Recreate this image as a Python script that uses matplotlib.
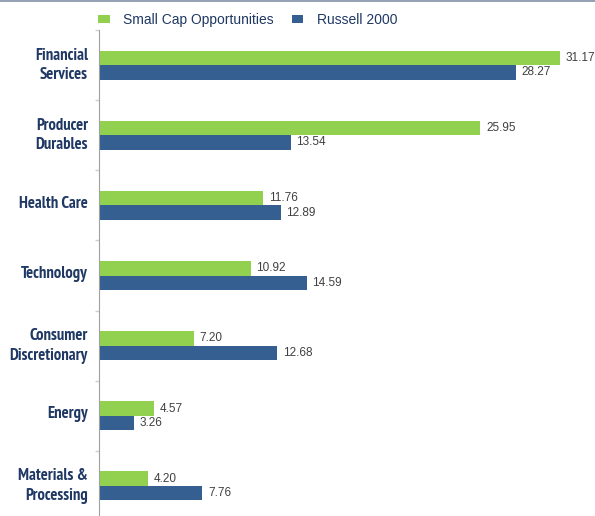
import numpy as np
import matplotlib.pyplot as plt
import matplotlib.transforms as mtransforms
from matplotlib.lines import Line2D

categories = ["Financial\nServices", "Producer\nDurables", "Health Care", "Technology",
              "Consumer\nDiscretionary", "Energy", "Materials &\nProcessing"]
small_cap = [31.17, 25.95, 11.76, 10.92, 7.20, 4.57, 4.20]
russell = [28.27, 13.54, 12.89, 14.59, 12.68, 3.26, 7.76]
series_names = ["Small Cap Opportunities", "Russell 2000"]

green = "#92D050"
blue = "#355F91"
navy = "#1F3864"

fig = plt.figure(figsize=(5.95, 5.16), dpi=100)
ax = fig.add_axes([99 / 595, -5 / 516, 1 - 99 / 595, 491 / 516])

# the value axis of the original starts at 1, not 0
xmin = 1.0
y = np.arange(len(categories))
h = 0.207
ax.barh(y - h / 2, np.array(small_cap) - xmin, left=xmin, height=h, color=green,
        label=series_names[0])
ax.barh(y + h / 2, np.array(russell) - xmin, left=xmin, height=h, color=blue,
        label=series_names[1])

for yi, v in zip(y, small_cap):
    ax.text(v + 0.38, yi - h / 2, f"{v:.2f}", va="center", ha="left",
            fontsize=8.5, color="#404040", family="Liberation Sans")
for yi, v in zip(y, russell):
    ax.text(v + 0.38, yi + h / 2, f"{v:.2f}", va="center", ha="left",
            fontsize=8.5, color="#404040", family="Liberation Sans")

ax.set_xlim(xmin, xmin + 496 / 15.28)
ax.set_ylim(len(categories) - 0.5, -0.5)
ax.set_yticks(y)
ax.set_yticklabels(categories, fontsize=12, fontweight="bold", color=navy,
                   family=["PT Sans Narrow", "Liberation Sans"], linespacing=1.3)
ax.tick_params(axis="y", which="major", length=0, pad=8)
# labels sit a little above the group centre in the original
shift = mtransforms.ScaledTranslation(0, 0.035, fig.dpi_scale_trans)
for lab in ax.get_yticklabels():
    lab.set_transform(lab.get_transform() + shift)
ax.set_yticks(np.arange(-0.5, len(categories), 1), minor=True)
ax.tick_params(axis="y", which="minor", length=3, color="#d0d0d0", width=1)
ax.set_xticks([])
for s in ["top", "right", "bottom"]:
    ax.spines[s].set_visible(False)
ax.spines["left"].set_color("#a0a0a0")

leg = fig.legend(loc="center left", bbox_to_anchor=(98 / 595, 1 - 20 / 516), ncol=2,
                 frameon=False, borderaxespad=0, borderpad=0,
                 handlelength=0.85, handleheight=0.45, handletextpad=0.95,
                 columnspacing=1.3, prop={"family": "Liberation Sans", "size": 10})
for t in leg.get_texts():
    t.set_color(navy)

fig.add_artist(Line2D([0, 1], [1 - 0.5 / 516, 1 - 0.5 / 516], color="#8090a8", lw=1.2,
                      transform=fig.transFigure))

fig.savefig("out.png", dpi=100)
